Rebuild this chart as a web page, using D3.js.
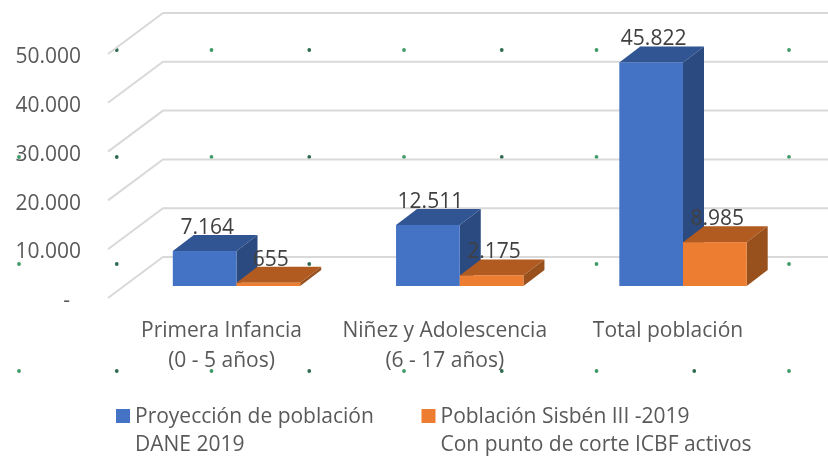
<!DOCTYPE html>
<html>
<head>
<meta charset="utf-8">
<script src="https://cdn.jsdelivr.net/npm/d3@7"></script>
<style>
  html, body { margin: 0; padding: 0; background: #fff; }
  svg { display: block; font-family: "Open Sans", sans-serif; filter: blur(0.5px); }
</style>
</head>
<body>
<div id="chart"></div>
<script>
const categories = [
  ['Primera Infancia', '(0 - 5 años)'],
  ['Niñez y Adolescencia', '(6 - 17 años)'],
  ['Total población'],
];
const seriesNames = [
  ['Proyección de población', 'DANE 2019'],
  ['Población Sisbén III -2019', 'Con punto de corte ICBF activos'],
];
const dane = [7164, 12511, 45822];
const sisben = [655, 2175, 8985];
const yTicks = [0, 10000, 20000, 30000, 40000, 50000];
const seriesValues = [dane, sisben];

const width = 828;
const height = 456;
const fmt = d3.format(',');
const fmtEs = v => fmt(v).replace(/,/g, '.');

// colours per series: [front, top, side]
const COLORS = [
  ['#4472c4', '#315592', '#2a4a80'],
  ['#ed7d31', '#b25b20', '#98501c'],
];
const TEXT = '#595959';
const LABEL = '#404040';
const FONT = 21;

// 3d floor: gridlines run from the front edge to the back wall
const FLOOR = { dx: 55, dy: 41 };
// bars sit inside the floor depth
const BAR = { dx: 21, dy: 16, inY: 12 };

const svg = d3.select('#chart').append('svg')
  .attr('width', width)
  .attr('height', height);

const y = d3.scaleLinear().domain([0, 50000]).range([298, 54]);
const x = d3.scalePoint().domain(d3.range(categories.length)).range([236.5, 683]);
const xSeries = d3.scaleBand().domain([0, 1]).range([-63.7, 63.7]);

// stray dots from the source picture, sit under everything else
const dotX = d3.scalePoint().domain(d3.range(9)).range([19, 789]);
const dotY = d3.scalePoint().domain(d3.range(4)).range([50, 371]);
const dots = svg.append('g');
d3.range(4).forEach(r => {
  d3.range(9).forEach(c => {
    if (r === 0 && c === 0) return; // not visible in the top-left corner
    dots.append('circle')
      .attr('cx', dotX(c) + (c % 2 ? 1.5 : 0))
      .attr('cy', dotY(r))
      .attr('r', 1.9)
      .attr('fill', c % 2 ? '#2f6b50' : '#3f9a66');
  });
});

const grid = svg.append('g')
  .attr('fill', 'none')
  .attr('stroke', '#d9d9d9')
  .attr('stroke-width', 2);
const gridLine = d3.line();
yTicks.forEach(t => {
  grid.append('path').attr('d', gridLine([
    [108, y(t)],
    [108 + FLOOR.dx, y(t) - FLOOR.dy],
    [width, y(t) - FLOOR.dy],
  ]));
});

const yAxis = d3.axisLeft(y)
  .tickValues(yTicks)
  .tickSize(0)
  .tickPadding(0)
  .tickFormat(v => (v === 0 ? '-\u00a0\u00a0' : fmtEs(v)));
svg.append('g')
  .attr('transform', 'translate(81,2)')
  .call(yAxis)
  .call(g => g.select('.domain').remove())
  .selectAll('text')
  .attr('font-family', '"Open Sans", sans-serif')
  .attr('font-size', FONT)
  .attr('fill', TEXT);

const poly = d3.line();
const barsG = svg.append('g');
const labelsG = svg.append('g');

categories.forEach((cat, i) => {
  seriesValues.forEach((vals, s) => {
    const x0 = x(i) + xSeries(s);
    const x1 = x0 + xSeries.bandwidth();
    const y0 = y(0) - BAR.inY;
    const y1 = y(vals[i]) - BAR.inY;
    const [front, top, side] = COLORS[s];
    const g = barsG.append('g');
    g.append('path').attr('fill', top).attr('d', poly([
      [x0, y1], [x0 + BAR.dx, y1 - BAR.dy], [x1 + BAR.dx, y1 - BAR.dy], [x1, y1],
    ]) + 'Z');
    g.append('path').attr('fill', side).attr('d', poly([
      [x1, y1], [x1 + BAR.dx, y1 - BAR.dy], [x1 + BAR.dx, y0 - BAR.dy], [x1, y0],
    ]) + 'Z');
    g.append('rect')
      .attr('x', x0).attr('y', y1)
      .attr('width', x1 - x0).attr('height', y0 - y1)
      .attr('fill', front);
    labelsG.append('text')
      .attr('x', (x0 + x1) / 2 + 2.5)
      .attr('y', y1 - BAR.dy - 1)
      .attr('text-anchor', 'middle')
      .attr('font-size', FONT)
      .attr('fill', LABEL)
      .text(fmtEs(vals[i]));
  });

  const t = svg.append('text')
    .attr('text-anchor', 'middle')
    .attr('font-size', 21)
    .attr('fill', TEXT);
  cat.forEach((line, j) => {
    t.append('tspan')
      .attr('x', x(i) - 15)
      .attr('y', 337 + j * 30)
      .text(line);
  });
});

const legendX = [116, 421.5];
seriesNames.forEach((lines, s) => {
  const g = svg.append('g').attr('transform', `translate(${legendX[s]},0)`);
  g.append('rect')
    .attr('y', 409)
    .attr('width', 14)
    .attr('height', 14)
    .attr('fill', COLORS[s][0]);
  lines.forEach((line, j) => {
    g.append('text')
      .attr('x', 19)
      .attr('y', 422.5 + j * 28.5)
      .attr('font-size', 21)
      .attr('fill', TEXT)
      .text(line);
  });
});
</script>
</body>
</html>
